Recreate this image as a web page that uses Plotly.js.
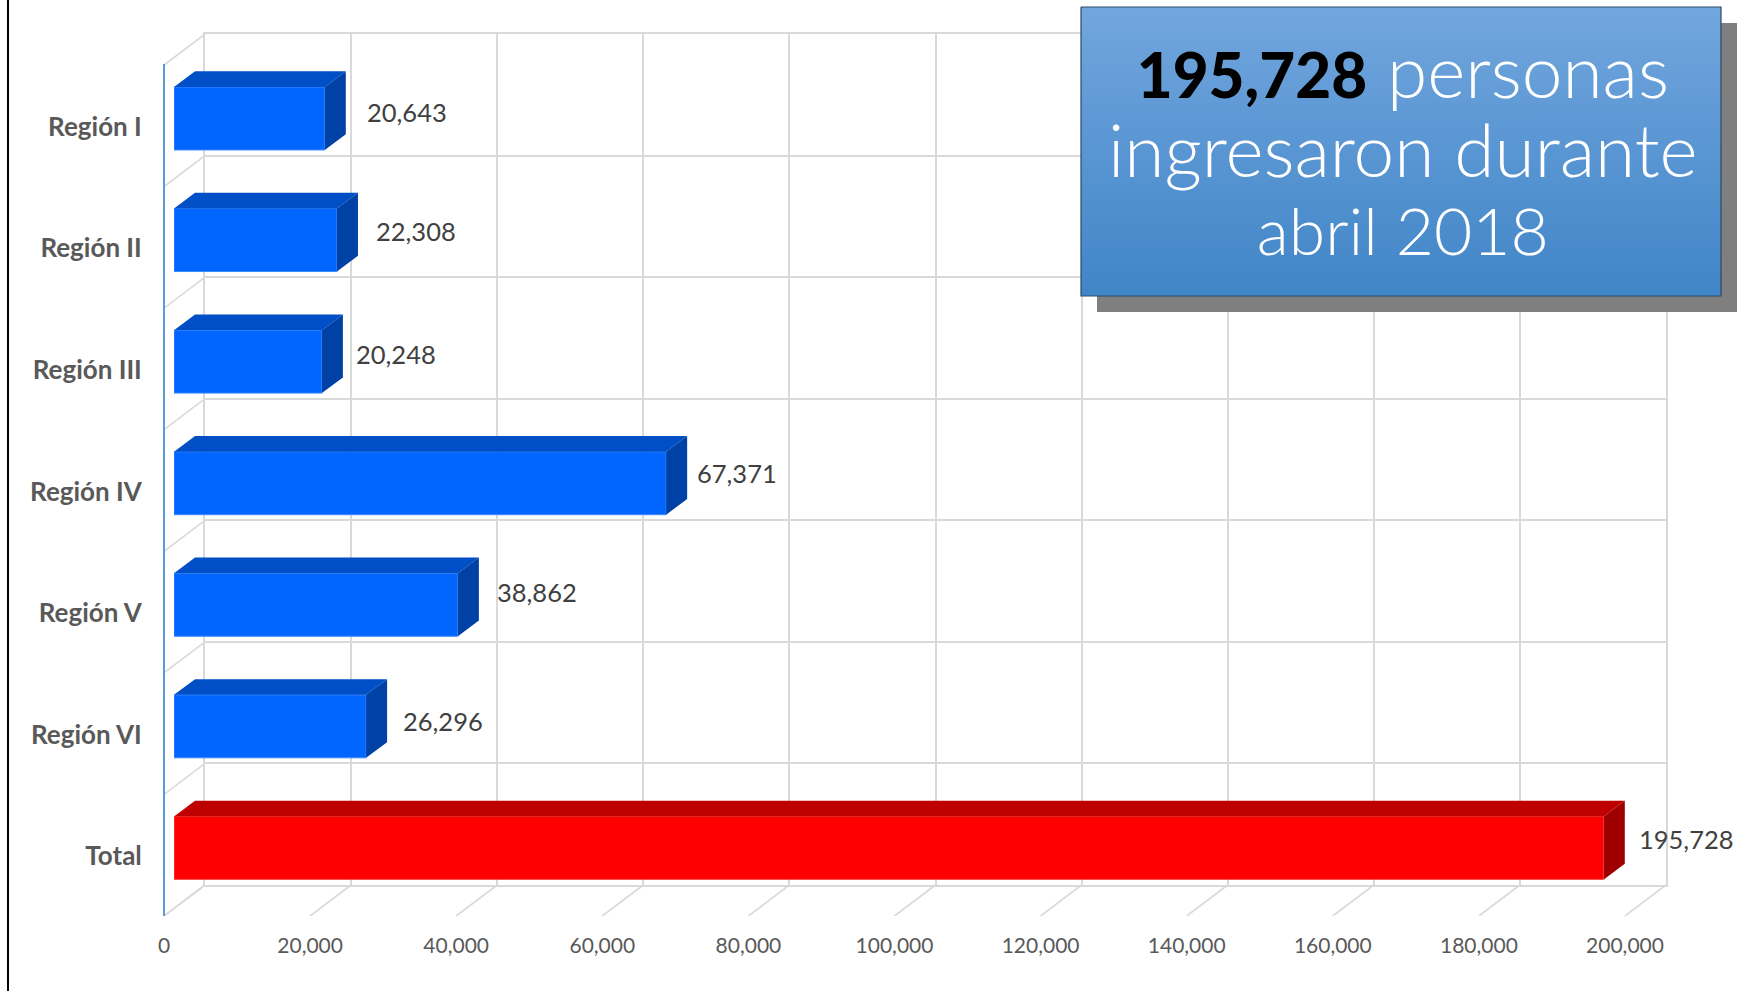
<!DOCTYPE html>
<html>
<head>
<meta charset="utf-8">
<script src="https://cdn.plot.ly/plotly-3.0.1.min.js"></script>
<style>html,body{margin:0;padding:0;background:#fff;overflow:hidden}</style>
</head>
<body>
<div id="chart" style="width:1739px;height:991px"></div>
<script>
// ---- data ----
const categories = ["Región I","Región II","Región III","Región IV","Región V","Región VI","Total"];
const values = [20643,22308,20248,67371,38862,26296,195728];
const xTicks = [0,20000,40000,60000,80000,100000,120000,140000,160000,180000,200000];

// ---- drawing options ----
const W = 1739, H = 991;
const pxPerUnit = 1461 / 200000, pxPerBand = 851 / 7;
const units = px => px / pxPerUnit, bands = px => px / pxPerBand;
const domX = (a, b) => [a / W, b / W];
const domY = (a, b) => [1 - b / H, 1 - a / H];
const GRID = "#D9D9D9";
const barStyles = {
  region: {face: "#0066FF", edge: "#3D8BFF", top: "#004FC6", side: "#0041A6"},
  total:  {face: "#FF0000", edge: "#FF4D4D", top: "#BF0000", side: "#9E0000"}
};
const labelNudgeX = [19,16,11,8,16,14,12];
const labelNudgeY = [6,9,8,10,13,5,9];

const idx = categories.map((_, i) => i);
const styleOf = i => categories[i] === "Total" ? barStyles.total : barStyles.region;
const halfBar = 0.259, depthX = units(21), depthY = bands(15.7);

function polygons(group, kind) {
  const xs = [], ys = [];
  idx.filter(i => styleOf(i) === group).forEach(i => {
    const v = values[i], t = i - halfBar, b = i + halfBar;
    const px = kind === "top" ? [0, depthX, v + depthX, v, 0] : [v, v + depthX, v + depthX, v, v];
    const py = kind === "top" ? [t, t - depthY, t - depthY, t, t] : [t, t - depthY, b - depthY, b, t];
    xs.push(...px, null); ys.push(...py, null);
  });
  return {type: "scatter", mode: "lines", x: xs, y: ys, xaxis: "x3", yaxis: "y3", fill: "toself",
    fillcolor: group[kind], line: {width: 0, color: group[kind]}, hoverinfo: "skip", cliponaxis: false, showlegend: false};
}

// floor and side-wall diagonals, running from the back wall to the front plane
const wallX = units(41), wallY = bands(31);
const diagX = [], diagY = [];
xTicks.forEach(t => { diagX.push(t, t - wallX, null); diagY.push(7, 7 + wallY, null); });
for (let k = 0; k <= 7; k++) { diagX.push(0, -wallX, null); diagY.push(k, k + wallY, null); }

const box = {l: 1081, r: 1721, t: 7, b: 296};
const shadow = {l: 1097, r: 1737, t: 23, b: 312};
const rectX = r => [r.l, r.r, r.r, r.l, r.l], rectY = r => [r.t, r.t, r.b, r.b, r.t];

const traces = [
  {type: "scatter", mode: "markers", x: xTicks, y: xTicks.map(() => 0), xaxis: "x", yaxis: "y",
   marker: {opacity: 0}, hoverinfo: "skip", showlegend: false},
  {type: "scatter", mode: "lines", x: diagX, y: diagY, xaxis: "x2", yaxis: "y2",
   line: {color: GRID, width: 1.6}, hoverinfo: "skip", showlegend: false},
  {type: "bar", orientation: "h", x: values, y: idx, xaxis: "x3", yaxis: "y3", width: halfBar * 2,
   customdata: categories, hovertemplate: "%{customdata}: %{x:,}<extra></extra>",
   marker: {color: idx.map(i => styleOf(i).face), line: {color: idx.map(i => styleOf(i).edge), width: 1}}, showlegend: false},
  polygons(barStyles.region, "top"), polygons(barStyles.region, "side"),
  polygons(barStyles.total, "top"), polygons(barStyles.total, "side"),
  {type: "scatter", mode: "markers", x: values, y: categories, xaxis: "x4", yaxis: "y4",
   marker: {opacity: 0}, hoverinfo: "skip", showlegend: false},
  {type: "scatter", mode: "lines", x: rectX(shadow), y: rectY(shadow), xaxis: "x5", yaxis: "y5", fill: "toself",
   fillcolor: "#7F7F7F", line: {width: 0}, hoverinfo: "skip", showlegend: false},
  {type: "scatter", mode: "lines", x: rectX(box), y: rectY(box), xaxis: "x5", yaxis: "y5", fill: "toself",
   fillgradient: {type: "vertical", colorscale: [[0, "#4085C7"], [1, "#72A6DE"]]},
   line: {width: 1.2, color: "#2C4A66"}, hoverinfo: "skip", showlegend: false}
];

const hidden = {visible: false, fixedrange: true};
const labelAnnotations = idx.map(i => ({
  xref: "x3", yref: "y3", x: values[i] + depthX, y: i, xanchor: "left", yanchor: "middle",
  xshift: labelNudgeX[i], yshift: labelNudgeY[i], showarrow: false,
  text: values[i].toLocaleString("en-US"),
  font: {family: "Lato", size: 25.5, color: "#404040"}
}));
const headline = {
  xref: "x5", yref: "y5", x: (box.l + box.r) / 2 + 2, y: 147.5, xanchor: "center", yanchor: "middle", showarrow: false,
  align: "center",
  text: '<span style="color:#000;font-weight:900;font-size:62px">195,728</span><span style="font-size:73px"> personas</span><br>' +
        '<span style="font-size:73px">ingresaron durante</span><br>' +
        '<span style="font-size:66px">abril 2018</span>',
  font: {family: "Lato", size: 60.5, color: "#FFFFFF", weight: 300}
};

const layout = {
  width: W, height: H, margin: {l: 0, r: 0, t: 0, b: 0}, paper_bgcolor: "#fff", plot_bgcolor: "rgba(0,0,0,0)",
  showlegend: false, bargap: 0,
  // back wall
  xaxis: {domain: domX(205, 1666), range: [0, 200000], tickvals: xTicks, showgrid: true, gridcolor: GRID, gridwidth: 2,
    zeroline: false, showline: true, mirror: true, linecolor: GRID, linewidth: 2, showticklabels: false, ticks: "", anchor: "y"},
  yaxis: {domain: domY(34, 885), range: [7, 0], dtick: 1, showgrid: true, gridcolor: GRID, gridwidth: 2,
    zeroline: false, showline: true, mirror: true, linecolor: GRID, linewidth: 2, showticklabels: false, ticks: "", anchor: "x"},
  // frame that holds the diagonals, same scale as the back wall
  xaxis2: {domain: domX(164, 1666), range: [-wallX, 200000], visible: false, anchor: "y2"},
  yaxis2: {domain: domY(34, 916), range: [7 + wallY, 0], visible: false, anchor: "x2"},
  // plane of the bar fronts
  xaxis3: {domain: domX(174, 1635), range: [0, 200000], visible: false, anchor: "y3"},
  yaxis3: {domain: domY(57.7, 908.7), range: [6.5, -0.5], visible: false, anchor: "x3"},
  // front plane with the labelled axes
  xaxis4: {domain: domX(164, 1625), range: [0, 200000], tickvals: xTicks, tickformat: ",d", showgrid: false, zeroline: false,
    showline: false, ticks: "outside", ticklen: 10, tickcolor: "rgba(0,0,0,0)", anchor: "y4",
    tickfont: {family: "Lato", size: 21, color: "#595959"}},
  yaxis4: {domain: domY(66, 917), type: "category", categoryorder: "array", categoryarray: categories, range: [6.5, -0.5],
    showgrid: false, zeroline: false, showline: false, ticks: "outside", ticklen: 16,
    tickcolor: "rgba(0,0,0,0)", anchor: "x4", tickfont: {family: "Lato", size: 26, color: "#595959", weight: 700}},
  // call-out box
  xaxis5: Object.assign({domain: [0, 1], range: [0, W], anchor: "y5"}, hidden),
  yaxis5: Object.assign({domain: [0, 1], range: [H, 0], anchor: "x5"}, hidden),
  annotations: labelAnnotations.concat([headline]),
  shapes: [
    {type: "line", xref: "paper", yref: "paper", x0: 8 / W, x1: 8 / W, y0: 0, y1: 1, line: {color: "#000", width: 2}},
    {type: "line", xref: "paper", yref: "paper", x0: 164 / W, x1: 164 / W, y0: 1 - 916 / H, y1: 1 - 64 / H, line: {color: "#5B9BD5", width: 2}}
  ]
};

Plotly.newPlot("chart", traces, layout, {displayModeBar: false, staticPlot: true});
</script>
</body>
</html>
